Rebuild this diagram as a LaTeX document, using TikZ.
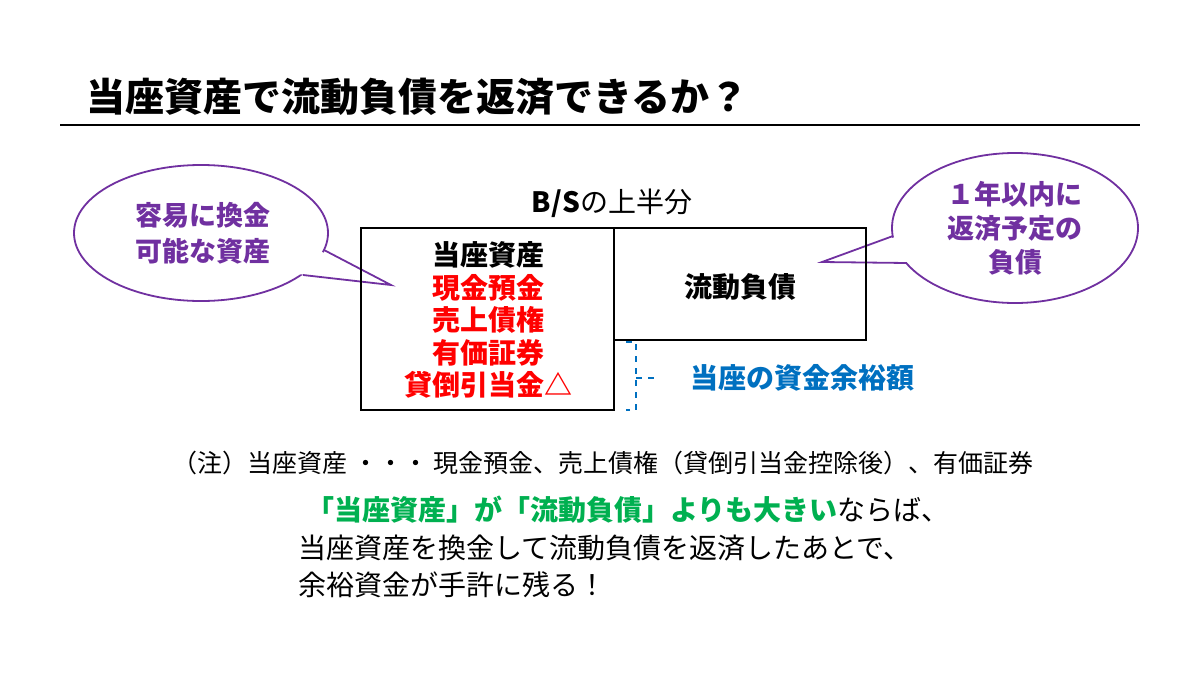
\documentclass[tikz,border=0pt]{standalone}
\usepackage{fontspec}
\setmainfont{Noto Sans CJK JP}
\definecolor{purp}{RGB}{112,48,160}
\definecolor{bl}{RGB}{0,112,192}
\definecolor{gr}{RGB}{0,176,80}
\begin{document}
\begin{tikzpicture}[x=0.5pt,y=-0.5pt,
  lbl/.style={inner sep=0pt,font=\fontsize{14}{18}\selectfont\bfseries},
  callout/.style={draw=purp,line width=0.9pt,fill=white}]
\useasboundingbox (0,0) rectangle (1200,675);
\node[anchor=west,inner sep=0pt,font=\fontsize{19.5}{24}\selectfont\bfseries] (title) at (86,97) {当座資産で流動負債を返済できるか？};
\draw[line width=1.1pt] (60,125) -- (1140,125);
% callouts
\draw[callout] (201,233) ellipse [x radius=127,y radius=68];
\fill[white] (318,250) -- (391,285) -- (298,274) -- cycle;
\draw[draw=purp,line width=0.9pt] (324,250) -- (391,285) -- (303,275);
\node[lbl,text=purp,align=center,font=\fontsize{13.5}{18}\selectfont\bfseries] (c1) at (203,233) {容易に換金\\可能な資産};
\draw[callout] (1015,228) ellipse [x radius=123,y radius=75];
\fill[white] (898,236) -- (822,262) -- (912,263) -- cycle;
\draw[draw=purp,line width=0.9pt] (893,236) -- (822,262) -- (907,263);
\node[lbl,text=purp,align=center,font=\fontsize{13.5}{17}\selectfont\bfseries] (c2) at (1015,228) {１年以内に\\返済予定の\\負債};
% boxes
\node[inner sep=0pt,font=\fontsize{14}{18}\selectfont] (bs) at (612,203) {\textbf{B/S}の上半分};
\draw[line width=0.9pt] (361,228) rectangle (614,410);
\draw[line width=0.9pt] (614,228) rectangle (866,340);
\node[lbl] (a0) at (488,255) {当座資産};
\node[lbl,text=red] (a1) at (488,288) {現金預金};
\node[lbl,text=red] (a2) at (488,320) {売上債権};
\node[lbl,text=red] (a3) at (488,353) {有価証券};
\node[lbl,text=red] (a4) at (488,385) {貸倒引当金△};
\node[lbl] (l) at (740,287) {流動負債};
\draw[bl,dashed,line width=0.8pt] (626,342) -- (636,342) -- (636,410) -- (626,410);
\draw[bl,dashed,line width=0.8pt] (636,378) -- (644,378) (648,378) -- (660,378);
\node[lbl,text=bl,anchor=west] (yo) at (690,378) {当座の資金余裕額};
% notes
\node[anchor=west,inner sep=0pt,font=\fontsize{12.5}{16}\selectfont] (n) at (172,463) {（注）当座資産 ・・・ 現金預金、売上債権（貸倒引当金控除後）、有価証券};
\node[anchor=west,inner sep=0pt,font=\fontsize{14}{18}\selectfont] (t1) at (306,510) {\textcolor{gr}{\bfseries 「当座資産」が「流動負債」よりも大きい}ならば、};
\node[anchor=west,inner sep=0pt,font=\fontsize{14}{18}\selectfont] (t2) at (298,548) {当座資産を換金して流動負債を返済したあとで、};
\node[anchor=west,inner sep=0pt,font=\fontsize{14}{18}\selectfont] (t3) at (298,585) {余裕資金が手許に残る！};
\end{tikzpicture}
\end{document}
